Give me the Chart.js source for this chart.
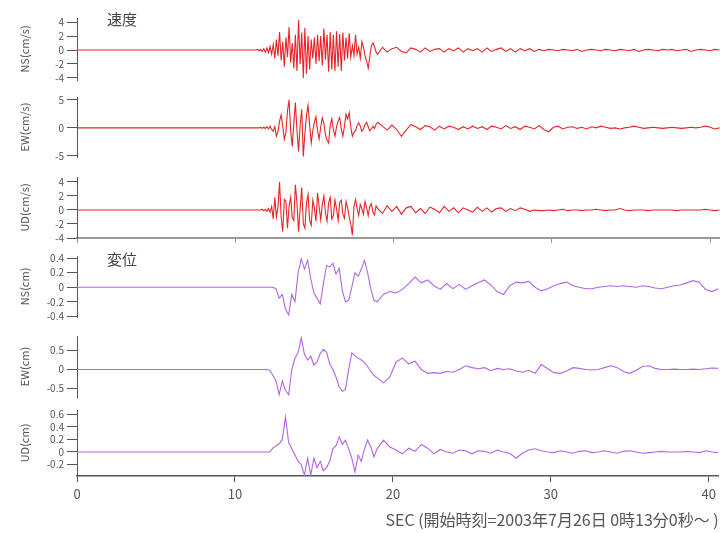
<!DOCTYPE html>
<html>
<head>
<meta charset="utf-8">
<script src="https://cdn.jsdelivr.net/npm/chart.js@4.4.1/dist/chart.umd.min.js"></script>
<style>
    body { margin: 0; background: #fff; }
    #wrap { position: relative; width: 720px; height: 533px; }
    canvas { position: absolute; left: 0; }
    #velChart { top: 0; }
    #dispChart { top: 240px; }
</style>
</head>
<body>
<div id="wrap">
    <canvas id="velChart" width="720" height="248"></canvas>
    <canvas id="dispChart" width="720" height="293"></canvas>
</div>
<script>
// sampling of the traces (sec): dense part, then coda
const velStart = 11.0, velStep = 0.1, velCodaStart = 19.3, velCodaStep = 0.3;
const dispStart = 11.0, dispStep = 0.2, dispCodaStart = 19.4, dispCodaStep = 0.4;

const xTickStep = 10;
const timeLabel = 'SEC (開始時刻=2003年7月26日 0時13分0秒～ )';

// velocity (cm/s)
const nsVel = [
    0, 0, 0, 0, 0.1, -0.1, 0.1, -0.2, 0.2, -0.3,
    0.3, -0.4, 0.5, -0.6, 0.8, -1.2, 1.5, -0.8, 2.6, -1.5,
    1.2, -2.4, 1.8, -1.0, 3.3, -1.8, 1.0, -2.6, 2.2, -3.0,
    4.3, -2.0, 2.5, -4.0, 3.2, -3.4, 2.0, -2.8, 1.5, -1.2,
    1.8, -2.0, 2.2, -1.6, 2.0, -2.2, 3.1, -1.4, 2.2, -3.1,
    2.6, -2.8, 2.2, -3.0, 2.7, -2.4, 2.3, -3.0, 2.5, -1.5,
    1.8, -1.2, 2.4, -1.0, 0.6, -0.8, 2.2, -0.6, 0.4, -1.2,
    1.2, 0.4, -0.8, -1.6, -2.6, -1.0, 0.6, 1.0, 0.5, -0.3,
    -0.6
];
const nsVelCoda = [
    0.4, -0.3, 0.2, 0.4, -0.2, -0.4, 0.3, 0.1, -0.3, 0.3, -0.2, 0.1,
    0.2, -0.3, 0.2, -0.1, 0.3, -0.3, 0.2, -0.1, 0.2, -0.3, 0.3, -0.2,
    0.1, 0.3, -0.2, 0.2, -0.3, 0.2, -0.1, 0.2, -0.2, 0.1, -0.1, 0.1,
    0, -0.1, 0.1, 0, -0.1, 0.1, -0.2, 0, 0.1, 0, -0.1, 0.1,
    0, -0.1, 0.1, 0, -0.1, 0.1, -0.2, 0, 0.1, 0, -0.1, 0.1,
    0, 0.1, -0.1, 0, 0.1, -0.2, 0, 0.1, 0, -0.1, 0.1, 0
];
const ewVel = [
    0, 0, 0, 0, 0, 0, 0.1, -0.1, 0.1, -0.1,
    0.2, -0.2, 0.3, -0.3, -0.6, 0.2, -1.5, -0.6, 1.2, 2.3,
    0.3, -2.0, -0.8, 3.0, 5.0, -0.5, -3.3, 0.8, 4.5, -0.5,
    -4.2, 0.5, 3.3, -5.1, -1.0, 2.2, 4.0, 0.5, -2.7, -0.5,
    1.0, 2.0, -0.5, -2.0, 0.2, 1.8, 0.8, -1.2, -2.2, -2.7,
    0.5, 1.6, -0.3, -1.5, 0.2, 1.2, 1.8, -0.2, -1.5, 0.3,
    2.4, 1.6, 2.7, 0.2, -1.5, -0.8, -0.5, 0.4, 0.9, 0.3,
    -0.6, -0.2, 0.6, 1.0, 0.2, -0.5, -0.2, 0.3, -0.1, 0.6,
    1.0
];
const ewVelCoda = [
    0.3, -0.4, 0.5, -0.3, -1.5, -0.4, 0.6, 0.2, -0.3, 0.4, 0.2, -0.4,
    0.3, -0.2, 0.3, 0.1, -0.3, 0.2, -0.2, 0.3, -0.1, 0.2, -0.3, 0.3,
    0.1, -0.2, 0.4, -0.1, 0.2, -0.3, 0.3, 0.1, -0.2, 0.4, -0.3, -0.7,
    0.1, 0.3, -0.2, 0.1, 0.2, -0.1, 0.1, -0.2, 0.2, 0, 0.3, 0.1,
    -0.1, 0, -0.2, 0, 0.1, 0.3, 0.1, -0.1, 0, 0.1, 0, -0.1,
    0, 0.1, 0, -0.1, 0, 0.1, 0, 0.1, 0.3, 0.1, -0.2, 0
];
const udVel = [
    0, 0, 0, 0, 0, 0, 0, 0.1, -0.1, 0.1,
    -0.2, 0.2, -0.3, 0.5, -1.3, 1.8, -1.0, 0.4, 4.0, -1.0,
    -3.1, 1.5, 1.3, -2.6, 0.5, 1.8, -1.1, -1.5, 3.6, 1.0,
    -3.1, 0.2, 3.2, -2.0, -2.6, 1.0, 2.2, -1.5, -2.2, 1.4,
    0.3, -1.6, 2.4, 0.5, -1.4, 0.8, 2.0, -0.4, -1.6, 1.0,
    1.8, -1.3, -0.8, 1.4, 0.2, -1.5, 1.1, 1.4, -0.6, -1.2,
    1.2, 0.3, -1.0, -2.0, -3.6, 0.5, 1.5, 0.2, -0.8, 0.8,
    0.2, -0.6, 1.2, 0.3, -0.8, 0.5, 0.9, -0.3, -0.7, 0.6,
    0.2
];
const udVelCoda = [
    -0.5, 0.6, -0.2, 0.5, -0.6, 0.3, 0.5, -0.4, 0.2, -0.5, 0.4, 0.1,
    -0.4, 0.5, -0.2, 0.3, -0.4, 0.3, 0, -0.3, 0.4, -0.2, 0.3, -0.3,
    0.2, 0.3, -0.2, 0.2, -0.1, 0.3, 0.1, -0.2, 0, -0.1, -0.1, 0,
    -0.1, 0, 0.1, -0.1, 0, 0, -0.1, 0, 0, 0.1, 0, -0.1,
    0, 0, 0.2, 0, -0.1, 0, 0, 0, -0.1, 0, 0, 0,
    0, 0, -0.1, 0, 0, 0, 0, 0, 0.1, 0, -0.1, 0
];

// displacement (cm)
const nsDisp = [
    0, 0, 0, 0, 0, 0, 0, 0, -0.02, -0.15,
    -0.1, -0.3, -0.38, -0.1, -0.2, 0.2, 0.39, 0.25, 0.37, 0.12,
    -0.08, -0.15, -0.23, 0.05, 0.3, 0.28, 0.33, 0.18, 0.26, -0.05,
    -0.2, -0.18, 0.0, 0.2, 0.15, 0.25, 0.37, 0.2, -0.02, -0.18,
    -0.2
];
const nsDispCoda = [
    -0.1, -0.06, -0.08, -0.03, 0.05, 0.14, 0.06, 0.1, 0.02, -0.03, 0.05, -0.02,
    0.04, -0.03, 0.02, 0.06, 0.1, 0.03, -0.06, -0.1, 0.02, 0.07, 0.06, 0.08,
    0.0, -0.05, -0.02, 0.02, 0.05, 0.07, 0.02, 0.0, -0.02, -0.02, 0.0, 0.01,
    0.02, 0.01, 0.02, 0.01, 0.0, 0.02, 0.01, -0.01, -0.02, 0.0, 0.02, 0.03,
    0.06, 0.09, 0.07, -0.03, -0.06, -0.02
];
const ewDisp = [
    0, 0, 0, 0, 0, 0, -0.02, -0.15, -0.3, -0.66,
    -0.3, -0.55, -0.66, 0.0, 0.3, 0.45, 0.83, 0.4, 0.25, 0.35,
    0.12, 0.2, 0.42, 0.53, 0.45, 0.15, 0.0, -0.2, -0.45, -0.57,
    -0.52, 0.0, 0.44, 0.36, 0.3, 0.25, 0.18, 0.08, -0.05, -0.15,
    -0.22
];
const ewDispCoda = [
    -0.35, -0.2, 0.2, 0.3, 0.15, 0.22, 0.0, -0.1, -0.08, -0.1, -0.05, -0.07,
    0.0, 0.1, 0.05, 0.02, 0.05, -0.03, 0.03, 0.0, 0.02, -0.04, -0.07, -0.02,
    -0.1, 0.13, 0.02, -0.08, -0.1, -0.04, 0.05, 0.03, 0.0, -0.01, 0.0, 0.05,
    0.1, 0.05, -0.05, -0.1, -0.02, 0.08, 0.1, 0.03, 0.0, 0.0, 0.01, 0.0,
    0.0, 0.01, 0.0, 0.02, 0.04, 0.03
];
const udDisp = [
    0, 0, 0, 0, 0, 0, 0, 0.06, 0.1, 0.13,
    0.2, 0.56, 0.15, 0.05, -0.05, -0.15, -0.2, -0.37, -0.1, -0.37,
    -0.1, -0.25, -0.15, -0.3, -0.25, -0.15, 0.05, 0.1, 0.24, 0.12,
    0.19, 0.05, -0.1, -0.32, -0.05, -0.15, 0.05, 0.19, 0.08, -0.08,
    0.05
];
const udDispCoda = [
    0.19, 0.08, 0.03, -0.03, 0.06, 0.01, 0.12, 0.06, -0.03, 0.04, 0.0, -0.02,
    0.03, 0.02, -0.03, 0.02, 0.01, -0.02, 0.03, 0.0, -0.02, -0.1, -0.02, 0.03,
    0.05, 0.02, 0.0, -0.01, 0.02, 0.0, -0.02, 0.01, 0.02, -0.01, 0.0, 0.02,
    0.0, -0.02, 0.01, 0.02, 0.0, -0.02, -0.01, 0.0, 0.01, 0.0, 0.0, 0.0,
    0.01, 0.0, -0.01, 0.02, 0.0, -0.01
];

const velColor = 'rgb(232, 36, 40)';
const dispColor = 'rgb(176, 102, 226)';

Chart.defaults.font.family = '"Noto Sans CJK JP", "DejaVu Sans", sans-serif';
Chart.defaults.color = '#555';

function trace(active, t0, dt, coda, c0, cdt) {
    const pts = [{ x: 0, y: 0 }];
    active.forEach((v, i) => pts.push({ x: +(t0 + i * dt).toFixed(2), y: v }));
    coda.forEach((v, i) => pts.push({ x: +(c0 + i * cdt).toFixed(2), y: v }));
    return pts;
}

function panelAxis(title, min, max, step, weight, order) {
    return {
        type: 'linear', position: 'left', stack: 'p', stackWeight: weight, weight: order,
        min: min, max: max,
        afterFit: s => { s.width = 77; },
        border: { color: '#555' },
        grid: { drawOnChartArea: false, tickLength: 10, color: '#555' },
        ticks: { stepSize: step, includeBounds: false, autoSkip: false, font: { size: 10 }, padding: 3 },
        title: { display: true, text: title, font: { size: 11 }, padding: { top: 18, bottom: 0 } }
    };
}

function gapAxis(weight, order) {
    return { type: 'linear', position: 'left', stack: 'p', stackWeight: weight, weight: order, display: false };
}

function line(data, color, axis) {
    return { data: data, borderColor: color, borderWidth: 1.1, pointRadius: 0, tension: 0, yAxisID: axis, xAxisID: 'x' };
}

const groupLabel = {
    id: 'groupLabel',
    afterDraw(chart, args, opts) {
        const { ctx, chartArea } = chart;
        ctx.save();
        ctx.font = '15px "Noto Sans CJK JP"';
        ctx.fillStyle = '#444';
        ctx.textBaseline = 'top';
        ctx.fillText(opts.text, chartArea.left + 30, chartArea.top + opts.dy);
        ctx.restore();
    }
};

const commonPlugins = { legend: { display: false }, tooltip: { enabled: false } };

new Chart(document.getElementById('velChart'), {
    type: 'line',
    data: {
        datasets: [
            line(trace(nsVel, velStart, velStep, nsVelCoda, velCodaStart, velCodaStep), velColor, 'ns'),
            line(trace(ewVel, velStart, velStep, ewVelCoda, velCodaStart, velCodaStep), velColor, 'ew'),
            line(trace(udVel, velStart, velStep, udVelCoda, velCodaStart, velCodaStep), velColor, 'ud')
        ]
    },
    options: {
        responsive: false,
        animation: false,
        layout: { padding: { top: 18, left: 0, right: 0, bottom: 0 } },
        plugins: Object.assign({ groupLabel: { text: '速度', dy: -6 } }, commonPlugins),
        scales: {
            x: {
                type: 'linear', min: 0, max: 40.63,
                afterFit: s => { s.height = 10; },
                border: { color: '#999', width: 2 },
                grid: { drawOnChartArea: false, tickLength: 5, color: '#999' },
                ticks: { stepSize: xTickStep, includeBounds: false, display: false }
            },
            ns: panelAxis('NS(cm/s)', -4.3, 4.6, 2, 62, 5),
            g1: gapAxis(17, 4),
            ew: panelAxis('EW(cm/s)', -5.2, 5.5, 5, 60, 3),
            g2: gapAxis(20, 2),
            ud: panelAxis('UD(cm/s)', -4, 4.7, 2, 61, 1)
        }
    },
    plugins: [groupLabel]
});

new Chart(document.getElementById('dispChart'), {
    type: 'line',
    data: {
        datasets: [
            line(trace(nsDisp, dispStart, dispStep, nsDispCoda, dispCodaStart, dispCodaStep), dispColor, 'ns'),
            line(trace(ewDisp, dispStart, dispStep, ewDispCoda, dispCodaStart, dispCodaStep), dispColor, 'ew'),
            line(trace(udDisp, dispStart, dispStep, udDispCoda, dispCodaStart, dispCodaStep), dispColor, 'ud')
        ]
    },
    options: {
        responsive: false,
        animation: false,
        layout: { padding: { top: 16, left: 0, right: 0, bottom: 0 } },
        plugins: Object.assign({ groupLabel: { text: '変位', dy: -4 } }, commonPlugins),
        scales: {
            x: {
                type: 'linear', min: 0, max: 40.63,
                afterFit: s => { s.height = 57; },
                border: { color: '#555', width: 1.5 },
                grid: { drawOnChartArea: false, tickLength: 6, color: '#555' },
                ticks: { stepSize: xTickStep, includeBounds: false, font: { size: 13 }, padding: 4 },
                title: { display: true, text: timeLabel, align: 'end', font: { size: 16 }, padding: { top: 2, bottom: 3 } }
            },
            ns: panelAxis('NS(cm)', -0.41, 0.43, 0.2, 61, 5),
            g1: gapAxis(19, 4),
            ew: panelAxis('EW(cm)', -0.72, 0.88, 0.5, 61, 3),
            g2: gapAxis(13, 2),
            ud: panelAxis('UD(cm)', -0.384, 0.67, 0.2, 66, 1)
        }
    },
    plugins: [groupLabel]
});
</script>
</body>
</html>
